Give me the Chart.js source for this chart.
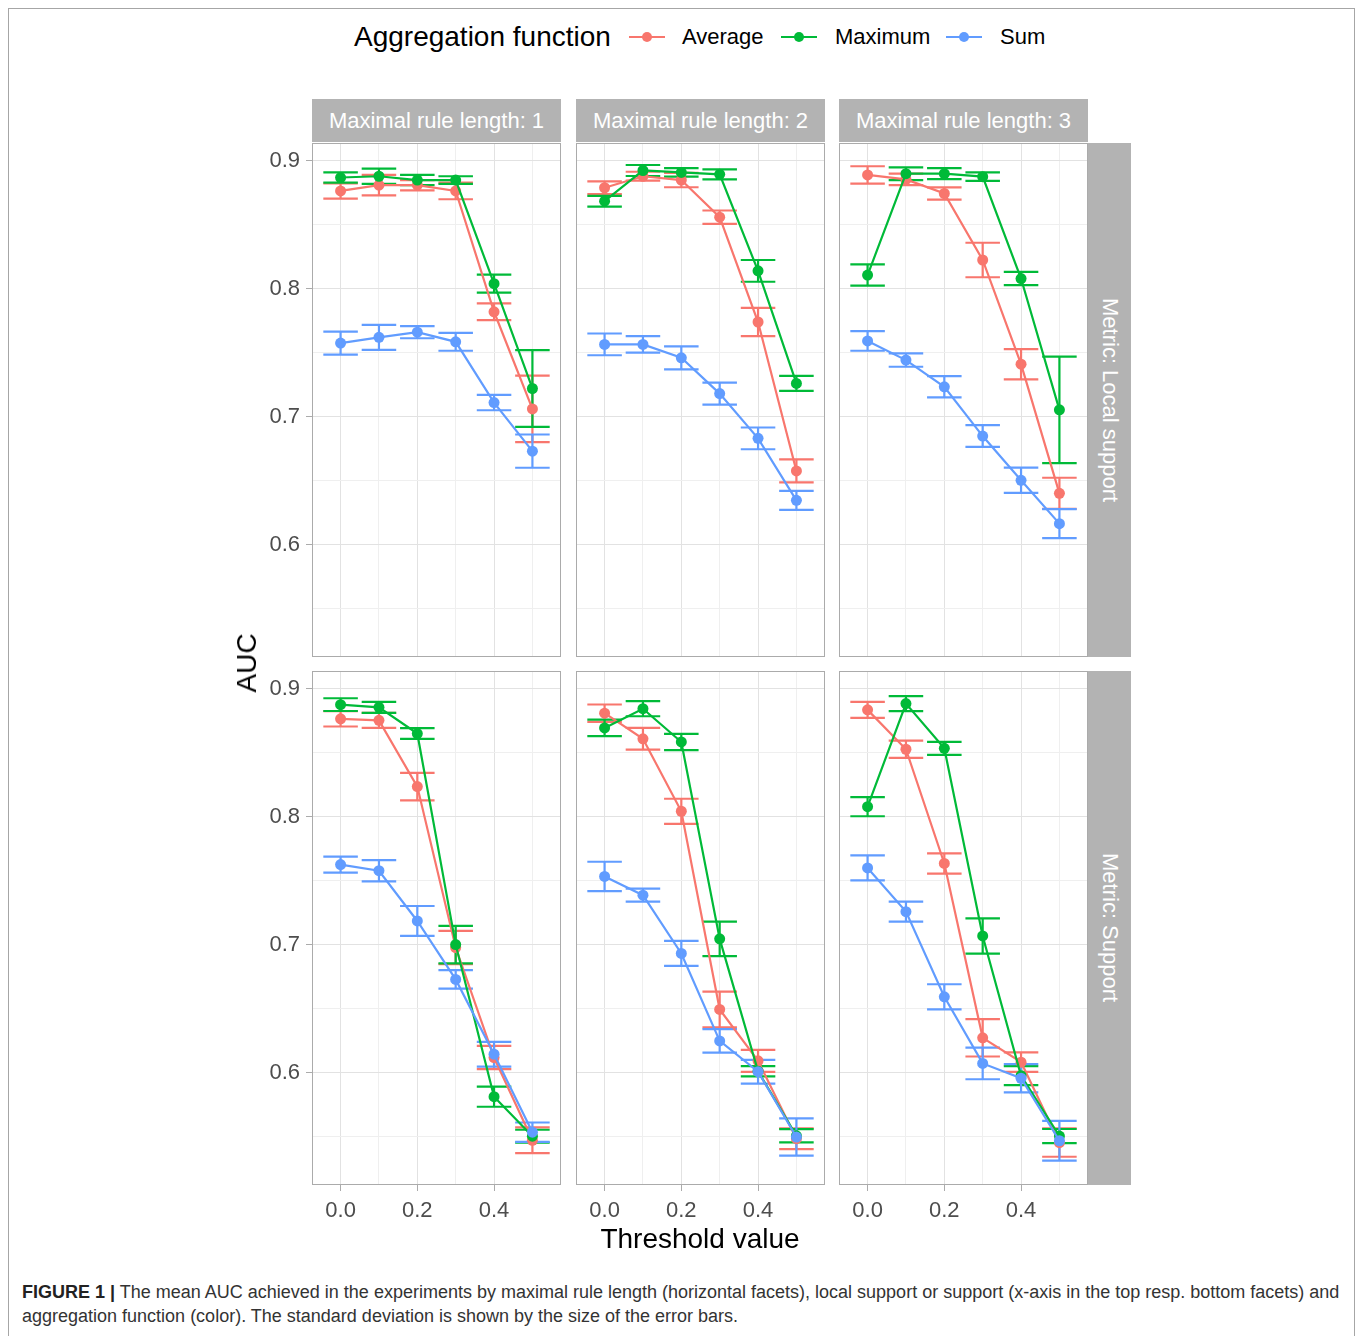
<!DOCTYPE html>
<html>
<head>
<meta charset="utf-8">
<script src="https://cdn.jsdelivr.net/npm/chart.js@4.4.0/dist/chart.umd.min.js"></script>
<style>
  body { margin: 0; background: #fff; font-family: "Liberation Sans", Arial, sans-serif; }
  #fig { position: relative; width: 1358px; height: 1336px; overflow: hidden; background: #fff; }
  #fig canvas { position: absolute; }
  .frame { position: absolute; left: 8px; top: 8px; width: 1347px; height: 1340px; border: 1px solid #a6a6a6; box-sizing: border-box; }
  .txt { position: absolute; white-space: nowrap; }
  .strip { position: absolute; background: #b3b3b3; color: #fff; font-size: 22px; display: flex; align-items: center; justify-content: center; }
  .strip.side { writing-mode: vertical-rl; }
  .key { position: absolute; height: 2px; width: 36px; }
  .key::after { content: ""; position: absolute; left: 13px; top: -4px; width: 10px; height: 10px; border-radius: 50%; background: inherit; }
</style>
</head>
<body>
<div id="fig">
  <div class="frame"></div>
</div>
<script>
// Facets and series
const thresholds = [0, 0.1, 0.2, 0.3, 0.4, 0.5];
const seriesNames = ['Average', 'Maximum', 'Sum'];
const seriesColors = ['#F8766D', '#00BA38', '#619CFF'];
const colTitles = ['Maximal rule length: 1', 'Maximal rule length: 2', 'Maximal rule length: 3'];
const rowTitles = ['Metric: Local support', 'Metric: Support'];

// Axis ticks (major ones get labels)
const xTicks = [0, 0.1, 0.2, 0.3, 0.4, 0.5];
const xMajor = [0, 0.2, 0.4];
const yTicks = [0.55, 0.6, 0.65, 0.7, 0.75, 0.8, 0.85, 0.9];
const yMajor = [0.6, 0.7, 0.8, 0.9];
const xMin = -0.0745, xMax = 0.5745;
const yMin = 0.512, yMax = 0.914;

// Metric: Local support, maximal rule length 1
const avgLocal1 = [0.8765, 0.881, 0.881, 0.8765, 0.782, 0.706];
const avgLocal1Sd = [0.006, 0.008, 0.004, 0.0065, 0.0065, 0.026];
const maxLocal1 = [0.887, 0.888, 0.885, 0.885, 0.804, 0.722];
const maxLocal1Sd = [0.004, 0.006, 0.004, 0.003, 0.007, 0.030];
const sumLocal1 = [0.7575, 0.762, 0.766, 0.7585, 0.711, 0.673];
const sumLocal1Sd = [0.009, 0.0098, 0.0047, 0.007, 0.006, 0.013];

// Metric: Local support, maximal rule length 2
const avgLocal2 = [0.879, 0.888, 0.885, 0.856, 0.774, 0.6575];
const avgLocal2Sd = [0.005, 0.0035, 0.0056, 0.0052, 0.011, 0.009];
const maxLocal2 = [0.8685, 0.8925, 0.891, 0.8895, 0.814, 0.726];
const maxLocal2Sd = [0.0042, 0.0043, 0.0033, 0.0039, 0.0085, 0.0058];
const sumLocal2 = [0.7565, 0.7565, 0.746, 0.718, 0.683, 0.6345];
const sumLocal2Sd = [0.0085, 0.0065, 0.009, 0.0086, 0.0085, 0.0074];

// Metric: Local support, maximal rule length 3
const avgLocal3 = [0.889, 0.8855, 0.8745, 0.8225, 0.741, 0.640];
const avgLocal3Sd = [0.0068, 0.0045, 0.0048, 0.0135, 0.0118, 0.0122];
const maxLocal3 = [0.8107, 0.890, 0.890, 0.8877, 0.808, 0.7053];
const maxLocal3Sd = [0.0083, 0.005, 0.0043, 0.0034, 0.0052, 0.0416];
const sumLocal3 = [0.7592, 0.7442, 0.7233, 0.6848, 0.6502, 0.6163];
const sumLocal3Sd = [0.0077, 0.0052, 0.0083, 0.0085, 0.0099, 0.0113];

// Metric: Support, maximal rule length 1
const avgSupport1 = [0.8766, 0.8754, 0.8236, 0.6977, 0.6117, 0.547];
const avgSupport1Sd = [0.006, 0.0059, 0.0108, 0.013, 0.0091, 0.010];
const maxSupport1 = [0.8877, 0.8856, 0.8651, 0.700, 0.5811, 0.5502];
const maxSupport1Sd = [0.005, 0.0043, 0.0042, 0.0146, 0.0079, 0.005];
const sumSupport1 = [0.7626, 0.7578, 0.7185, 0.6728, 0.6143, 0.5533];
const sumSupport1Sd = [0.0063, 0.0083, 0.0117, 0.0072, 0.0097, 0.0076];

// Metric: Support, maximal rule length 2
const avgSupport2 = [0.881, 0.861, 0.8043, 0.6493, 0.6091, 0.5482];
const avgSupport2Sd = [0.0068, 0.0085, 0.0098, 0.014, 0.0086, 0.0081];
const maxSupport2 = [0.8695, 0.8845, 0.8585, 0.7045, 0.601, 0.5505];
const maxSupport2Sd = [0.0065, 0.0059, 0.0064, 0.0135, 0.004, 0.0052];
const sumSupport2 = [0.7533, 0.7387, 0.6931, 0.6247, 0.6006, 0.5495];
const sumSupport2Sd = [0.0115, 0.0051, 0.0098, 0.0092, 0.0093, 0.0146];

// Metric: Support, maximal rule length 3
const avgSupport3 = [0.8836, 0.8528, 0.7635, 0.6271, 0.6081, 0.5452];
const avgSupport3Sd = [0.0063, 0.0068, 0.0079, 0.0146, 0.0076, 0.0111];
const maxSupport3 = [0.8079, 0.8885, 0.8535, 0.7068, 0.5975, 0.5503];
const maxSupport3Sd = [0.0075, 0.0059, 0.0051, 0.0138, 0.0074, 0.0055];
const sumSupport3 = [0.76, 0.7258, 0.6592, 0.6071, 0.5955, 0.5466];
const sumSupport3Sd = [0.0098, 0.0078, 0.0098, 0.0124, 0.011, 0.0156];

const panels = [
  { row: 0, col: 0, series: [[avgLocal1, avgLocal1Sd], [maxLocal1, maxLocal1Sd], [sumLocal1, sumLocal1Sd]] },
  { row: 0, col: 1, series: [[avgLocal2, avgLocal2Sd], [maxLocal2, maxLocal2Sd], [sumLocal2, sumLocal2Sd]] },
  { row: 0, col: 2, series: [[avgLocal3, avgLocal3Sd], [maxLocal3, maxLocal3Sd], [sumLocal3, sumLocal3Sd]] },
  { row: 1, col: 0, series: [[avgSupport1, avgSupport1Sd], [maxSupport1, maxSupport1Sd], [sumSupport1, sumSupport1Sd]] },
  { row: 1, col: 1, series: [[avgSupport2, avgSupport2Sd], [maxSupport2, maxSupport2Sd], [sumSupport2, sumSupport2Sd]] },
  { row: 1, col: 2, series: [[avgSupport3, avgSupport3Sd], [maxSupport3, maxSupport3Sd], [sumSupport3, sumSupport3Sd]] }
];

// Page geometry
const fig = document.getElementById('fig');
const colLeft = [312, 576, 839];
const rowTop = [143, 671];
const panelW = 249, panelH = 514;
const yAxisW = 62, xAxisH = 45;
const FONT = '"Liberation Sans", Arial, sans-serif';
const GRID_MAJOR = '#e2e2e2', GRID_MINOR = '#efefef', BORDER = '#ababab', TICK_TEXT = '#4d4d4d';
const ERR_HALF = 0.045; // half width of error bar caps, in threshold units

const isMajor = (list, v) => list.some(m => Math.abs(m - v) < 1e-6);

// no label overflow padding, so every chart area sits exactly on its panel
function noPadding(s) {
  s.paddingTop = 0;
  s.paddingBottom = 0;
  s.paddingLeft = 0;
  s.paddingRight = 0;
}

// error bars (mean +/- sd), drawn under the lines and points
const errorBars = {
  id: 'errorBars',
  beforeDatasetsDraw(chart) {
    const { ctx, scales: { x, y } } = chart;
    ctx.save();
    ctx.lineWidth = 2.2;
    chart.data.datasets.forEach(ds => {
      ctx.strokeStyle = ds.borderColor;
      ds.data.forEach((p, j) => {
        const sd = ds.sd[j];
        const px = x.getPixelForValue(p.x);
        const x0 = x.getPixelForValue(p.x - ERR_HALF);
        const x1 = x.getPixelForValue(p.x + ERR_HALF);
        const yTop = y.getPixelForValue(p.y + sd);
        const yBot = y.getPixelForValue(p.y - sd);
        ctx.beginPath();
        ctx.moveTo(x0, yTop); ctx.lineTo(x1, yTop);
        ctx.moveTo(x0, yBot); ctx.lineTo(x1, yBot);
        ctx.moveTo(px, yTop); ctx.lineTo(px, yBot);
        ctx.stroke();
      });
    });
    ctx.restore();
  }
};

// panel border box
const panelBox = {
  id: 'panelBox',
  afterDraw(chart) {
    const { ctx, chartArea: a } = chart;
    ctx.save();
    ctx.strokeStyle = BORDER;
    ctx.lineWidth = 1;
    ctx.strokeRect(a.left + 0.5, a.top + 0.5, a.right - a.left - 1, a.bottom - a.top - 1);
    ctx.restore();
  }
};

function makePanel(p) {
  const showY = p.col === 0;
  const showX = p.row === 1;
  const canvas = document.createElement('canvas');
  const w = panelW + (showY ? yAxisW : 0);
  const h = panelH + (showX ? xAxisH : 0);
  canvas.width = w;
  canvas.height = h;
  canvas.style.left = (colLeft[p.col] - (showY ? yAxisW : 0)) + 'px';
  canvas.style.top = rowTop[p.row] + 'px';
  canvas.style.width = w + 'px';
  canvas.style.height = h + 'px';
  fig.appendChild(canvas);

  new Chart(canvas, {
    type: 'line',
    data: {
      datasets: p.series.map((s, i) => ({
        label: seriesNames[i],
        data: thresholds.map((t, j) => ({ x: t, y: s[0][j] })),
        sd: s[1],
        borderColor: seriesColors[i],
        backgroundColor: seriesColors[i],
        borderWidth: 2.2,
        pointRadius: 5.5,
        pointHoverRadius: 5.5,
        pointBorderWidth: 0,
        tension: 0,
        fill: false,
        order: 2 - i // Sum drawn on top, like ggplot
      }))
    },
    options: {
      responsive: false,
      animation: false,
      devicePixelRatio: 1,
      events: [],
      layout: { padding: 0, autoPadding: false },
      plugins: { legend: { display: false }, tooltip: { enabled: false } },
      scales: {
        x: {
          type: 'linear',
          min: xMin,
          max: xMax,
          afterBuildTicks: s => { s.ticks = xTicks.map(v => ({ value: v })); },
          afterFit: s => { s.height = showX ? xAxisH : 0; noPadding(s); },
          border: { display: false },
          grid: {
            color: c => isMajor(xMajor, c.tick.value) ? GRID_MAJOR : GRID_MINOR,
            lineWidth: 1,
            drawTicks: showX,
            tickLength: 6,
            tickColor: c => isMajor(xMajor, c.tick.value) ? BORDER : 'rgba(0,0,0,0)'
          },
          ticks: {
            display: showX,
            autoSkip: false,
            maxRotation: 0,
            padding: 7,
            color: TICK_TEXT,
            font: { family: FONT, size: 22 },
            callback: v => isMajor(xMajor, v) ? v.toFixed(1) : ''
          }
        },
        y: {
          type: 'linear',
          min: yMin,
          max: yMax,
          afterBuildTicks: s => { s.ticks = yTicks.map(v => ({ value: v })); },
          afterFit: s => { s.width = showY ? yAxisW : 0; noPadding(s); },
          border: { display: false },
          grid: {
            color: c => isMajor(yMajor, c.tick.value) ? GRID_MAJOR : GRID_MINOR,
            lineWidth: 1,
            drawTicks: showY,
            tickLength: 6,
            tickColor: c => isMajor(yMajor, c.tick.value) ? BORDER : 'rgba(0,0,0,0)'
          },
          ticks: {
            display: showY,
            autoSkip: false,
            padding: 6,
            color: TICK_TEXT,
            font: { family: FONT, size: 22 },
            callback: v => isMajor(yMajor, v) ? v.toFixed(1) : ''
          }
        }
      }
    },
    plugins: [errorBars, panelBox]
  });
}

panels.forEach(makePanel);

// text helpers
function addText(html, css) {
  const d = document.createElement('div');
  d.className = 'txt';
  d.innerHTML = html;
  Object.assign(d.style, css);
  fig.appendChild(d);
  return d;
}

// facet strips
colTitles.forEach((t, c) => {
  const d = document.createElement('div');
  d.className = 'strip';
  d.textContent = t;
  Object.assign(d.style, { left: colLeft[c] + 'px', top: '99px', width: panelW + 'px', height: '43px' });
  fig.appendChild(d);
});
rowTitles.forEach((t, r) => {
  const d = document.createElement('div');
  d.className = 'strip side';
  d.textContent = t;
  Object.assign(d.style, { left: '1088px', top: rowTop[r] + 'px', width: '43px', height: panelH + 'px' });
  fig.appendChild(d);
});

// legend
addText('Aggregation function', { left: '354px', top: '21px', fontSize: '28px', color: '#000', lineHeight: '32px' });
const legendKeyX = [629, 781, 946];
const legendTextX = [682, 835, 1000];
seriesNames.forEach((n, i) => {
  const k = document.createElement('div');
  k.className = 'key';
  Object.assign(k.style, { left: legendKeyX[i] + 'px', top: '36px', background: seriesColors[i] });
  fig.appendChild(k);
  addText(n, { left: legendTextX[i] + 'px', top: '24px', fontSize: '22px', color: '#000', lineHeight: '26px' });
});

// axis titles
addText('AUC', { left: '247px', top: '663px', fontSize: '28px', color: '#000', transform: 'translate(-50%, -50%) rotate(-90deg)' });
addText('Threshold value', { left: '700px', top: '1239px', fontSize: '28px', color: '#000', transform: 'translate(-50%, -50%)' });

// caption
addText('<b style="color:#222">FIGURE 1 |</b> The mean AUC achieved in the experiments by maximal rule length (horizontal facets), local support or support (x-axis in the top resp. bottom facets) and',
  { left: '22px', top: '1281px', fontSize: '18px', color: '#333', lineHeight: '23px' });
addText('aggregation function (color). The standard deviation is shown by the size of the error bars.',
  { left: '22px', top: '1305px', fontSize: '18px', color: '#333', lineHeight: '23px' });
</script>
</body>
</html>
